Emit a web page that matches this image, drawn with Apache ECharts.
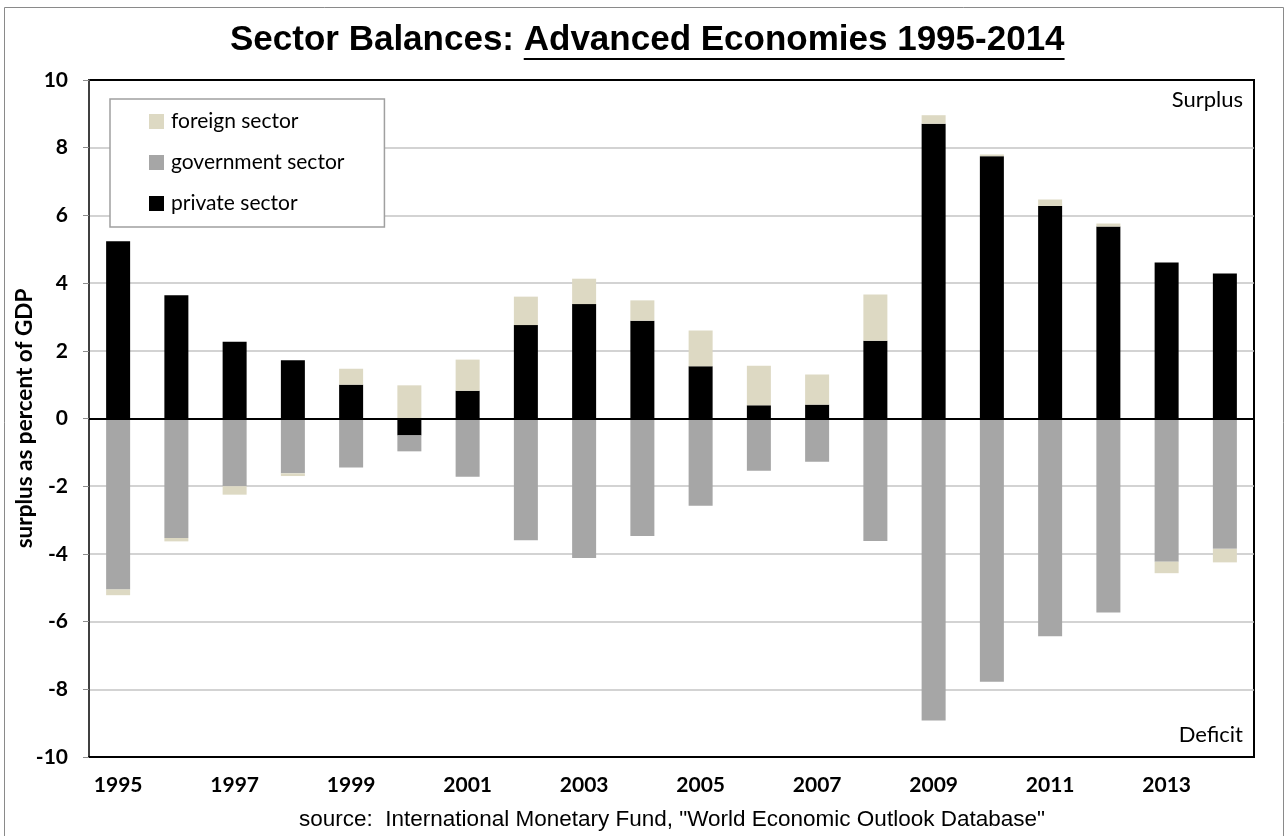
<!DOCTYPE html>
<html>
<head>
<meta charset="utf-8">
<script src="https://cdn.jsdelivr.net/npm/echarts@6/dist/echarts.min.js"></script>
<style>
  html, body { margin: 0; padding: 0; background: #fff; }
  #chart { width: 1288px; height: 836px; }
</style>
</head>
<body>
<div id="chart"></div>
<script>
// Sector financial balances, advanced economies, percent of GDP
const years = ['1995','1996','1997','1998','1999','2000','2001','2002','2003','2004',
               '2005','2006','2007','2008','2009','2010','2011','2012','2013','2014'];
const privateSector = [5.24, 3.64, 2.27, 1.72, 1.00, -0.50, 0.82, 2.76, 3.38, 2.89,
                       1.54, 0.39, 0.41, 2.30, 8.71, 7.75, 6.28, 5.67, 4.61, 4.28];
const governmentSector = [-5.05, -3.53, -2.00, -1.62, -1.45, -0.47, -1.72, -3.60, -4.12, -3.47,
                          -2.58, -1.54, -1.28, -3.62, -8.92, -7.78, -6.43, -5.73, -4.23, -3.85];
const foreignSector = [-0.17, -0.10, -0.25, -0.08, 0.47, 0.98, 0.92, 0.84, 0.75, 0.60,
                       1.06, 1.17, 0.89, 1.36, 0.25, 0.05, 0.19, 0.09, -0.34, -0.40];
const seriesNames = ['private sector', 'government sector', 'foreign sector'];
const legendOrder = ['foreign sector', 'government sector', 'private sector'];

const titleLead = 'Sector Balances: ';
const titleMain = 'Advanced Economies 1995-2014';
const sourceText = 'source:  International Monetary Fund, "World Economic Outlook Database"';

const COLORS = { private: '#000000', government: '#a6a6a6', foreign: '#ddd9c3' };
const SANS = '"Lato", "Open Sans", sans-serif';
const ARIAL = '"Liberation Sans", Arial, sans-serif';

// measure the title so the underline sits under its second half
const TITLE_FONT_SIZE = 35;
const measureCtx = document.createElement('canvas').getContext('2d');
measureCtx.font = 'bold ' + TITLE_FONT_SIZE + 'px "Liberation Sans"';
const leadW = measureCtx.measureText(titleLead).width;
const mainW = measureCtx.measureText(titleMain).width;
const titleCenter = 647;
const titleLeft = Math.round(titleCenter - (leadW + mainW) / 2);
const titleTop = 23;
const underlineY = 59;

const chart = echarts.init(document.getElementById('chart'), null, { renderer: 'canvas' });

function barSeries(name, data, color) {
  return {
    name: name,
    type: 'bar',
    stack: 'balance',
    barWidth: 24,
    data: data,
    itemStyle: { color: color },
    emphasis: { disabled: true }
  };
}

const series = [
  barSeries(seriesNames[0], privateSector, COLORS.private),
  barSeries(seriesNames[1], governmentSector, COLORS.government),
  barSeries(seriesNames[2], foreignSector, COLORS.foreign)
];
// zero line across the plot
series[0].markLine = {
  silent: true,
  symbol: 'none',
  label: { show: false },
  lineStyle: { color: '#000', width: 2, type: 'solid' },
  data: [{ yAxis: 0 }]
};

chart.setOption({
  animation: false,
  backgroundColor: '#ffffff',
  title: [
    {
      text: titleLead + titleMain,
      left: titleLeft,
      top: titleTop,
      padding: 0,
      textStyle: { fontFamily: ARIAL, fontWeight: 'bold', fontSize: TITLE_FONT_SIZE, color: '#000' }
    },
    {
      text: 'Surplus',
      right: 1288 - 1243,
      top: 89,
      padding: 0,
      textStyle: { fontFamily: SANS, fontWeight: 'normal', fontSize: 22, color: '#000' }
    },
    {
      text: 'Deficit',
      right: 1288 - 1243,
      top: 724,
      padding: 0,
      textStyle: { fontFamily: SANS, fontWeight: 'normal', fontSize: 22, color: '#000' }
    },
    {
      text: sourceText,
      left: 672,
      textAlign: 'center',
      top: 808,
      padding: 0,
      textStyle: { fontFamily: ARIAL, fontWeight: 'normal', fontSize: 22.5, color: '#000' }
    }
  ],
  legend: {
    data: legendOrder,
    orient: 'vertical',
    left: 110,
    top: 99,
    padding: [12, 40, 13, 39],
    itemGap: 20,
    itemWidth: 15,
    itemHeight: 15,
    icon: 'rect',
    borderColor: '#a0a0a0',
    borderWidth: 1.5,
    backgroundColor: '#ffffff',
    selectedMode: false,
    textStyle: { fontFamily: SANS, fontSize: 21, color: '#000', lineHeight: 20, padding: [0, 0, 0, 2] }
  },
  grid: {
    left: 89,
    right: 1288 - 1254,
    top: 80,
    bottom: 836 - 757,
    show: true,
    borderColor: '#000',
    borderWidth: 2,
    backgroundColor: 'transparent',
    containLabel: false,
    outerBoundsMode: 'none'
  },
  xAxis: {
    type: 'category',
    data: years,
    axisLine: { show: true, onZero: false, lineStyle: { color: '#000', width: 2 } },
    axisTick: { show: false },
    axisLabel: {
      interval: 1,
      margin: 18,
      fontFamily: SANS,
      fontWeight: 'bold',
      fontSize: 21,
      color: '#000'
    },
    splitLine: { show: false }
  },
  yAxis: {
    type: 'value',
    min: -10,
    max: 10,
    interval: 2,
    name: 'surplus as percent of GDP',
    nameLocation: 'middle',
    nameGap: 53,
    nameMoveOverlap: false,
    nameRotate: 90,
    nameTextStyle: { fontFamily: SANS, fontWeight: 'bold', fontSize: 22.5, color: '#000' },
    axisLine: { show: true, lineStyle: { color: '#404040', width: 2 } },
    axisTick: { show: true, inside: false, length: 6, lineStyle: { color: '#8c8c8c', width: 1 } },
    axisLabel: {
      margin: 21,
      fontFamily: SANS,
      fontWeight: 'bold',
      fontSize: 21,
      color: '#000'
    },
    splitLine: {
      show: true,
      showMinLine: false,
      showMaxLine: false,
      lineStyle: { color: '#c4c4c4', width: 1.5 }
    }
  },
  graphic: [
    {
      type: 'rect',
      silent: true,
      z: -1,
      shape: { x: 4.5, y: 7.5, width: 1279, height: 840 },
      style: { fill: 'none', stroke: '#8a8a8a', lineWidth: 1 }
    },
    {
      type: 'line',
      silent: true,
      shape: { x1: titleLeft + leadW, y1: underlineY, x2: titleLeft + leadW + mainW, y2: underlineY },
      style: { stroke: '#000', lineWidth: 2 }
    }
  ],
  series: series
});
</script>
</body>
</html>
